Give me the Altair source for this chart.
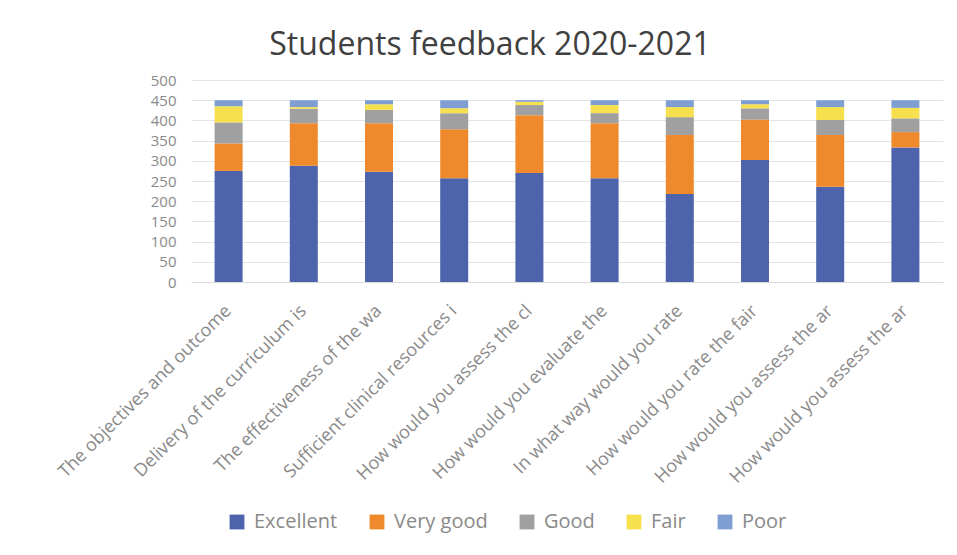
import altair as alt
import pandas as pd

questions = [
    "The objectives and outcome",
    "Delivery of the curriculum is",
    "The effectiveness of the wa",
    "Sufficient clinical resources i",
    "How would you assess the cl",
    "How would you evaluate the",
    "In what way would you rate",
    "How would you rate the fair",
    "How would you assess the ar",
    "How would you assess the ar ",
]
series = ["Excellent", "Very good", "Good", "Fair", "Poor"]
excellent = [275, 288, 273, 257, 270, 257, 218, 302, 236, 333]
very_good = [68, 105, 120, 121, 143, 136, 146, 100, 128, 38]
good = [52, 36, 33, 40, 25, 25, 44, 28, 37, 34]
fair = [40, 4, 14, 12, 8, 20, 25, 10, 32, 26]
poor = [15, 17, 10, 20, 4, 12, 17, 10, 17, 19]
colors = ["#4d63ab", "#ee8a2c", "#a0a0a0", "#f6e04e", "#7f9fd2"]

rows = []
for i, q in enumerate(questions):
    for k, (name, vals) in enumerate(zip(series, [excellent, very_good, good, fair, poor])):
        rows.append({"question": q, "series": name, "value": vals[i], "order": k})
df = pd.DataFrame(rows)

chart = alt.Chart(df).mark_bar(size=28).encode(
    x=alt.X("question:N", sort=questions, title=None,
            scale=alt.Scale(paddingInner=0.63, paddingOuter=0.315),
            axis=alt.Axis(labelAngle=-45, labelAlign="right", labelBaseline="middle",
                          labelFontSize=18, labelColor="#8a8a8a", labelFont="Open Sans",
                          labelPadding=26, ticks=False, domainColor="#d9d9d9", labelLimit=400)),
    y=alt.Y("value:Q", stack="zero", title=None,
            scale=alt.Scale(domain=[0, 500], nice=False),
            axis=alt.Axis(values=list(range(0, 501, 50)), labelFontSize=15,
                          labelColor="#8a8a8a", labelFont="Open Sans", labelPadding=15,
                          ticks=False, domain=False, gridColor="#e4e4e4")),
    color=alt.Color("series:N", sort=series,
                    scale=alt.Scale(domain=series, range=colors),
                    legend=alt.Legend(title=None, orient="none", direction="horizontal",
                                      legendX=36, legendY=432, symbolType="square",
                                      symbolSize=220, symbolStrokeWidth=0,
                                      labelFontSize=20, labelColor="#8a8a8a",
                                      labelFont="Open Sans", columnPadding=29, labelOffset=7)),
    order=alt.Order("order:Q", sort="ascending"),
).properties(
    width=752,
    height=202,
    title=alt.TitleParams("Students feedback 2020-2021", fontSize=32, font="Open Sans",
                          fontWeight="normal", color="#404040", anchor="middle",
                          dx=-77, offset=11),
    autosize=alt.AutoSizeParams(type="none"),
    padding={"left": 183, "top": 72, "right": 6, "bottom": 262},
).configure_view(stroke=None)

chart.save("out.html", embed_options={"renderer": "svg", "actions": False})
